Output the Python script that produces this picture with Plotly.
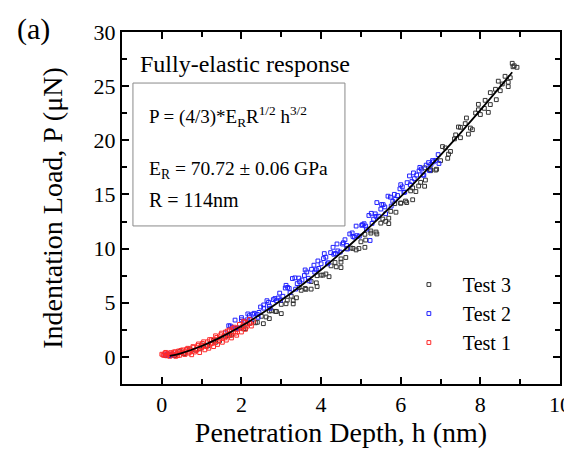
import plotly.graph_objects as go

# ---- data ----
test1_h = [0.00,0.05,0.08,0.12,0.15,0.20,0.22,0.28,0.30,0.35,0.38,0.42,0.45,0.50,0.52,0.58,0.60,0.65,0.68,0.72,
           0.75,0.80,0.82,0.88,0.90,0.95,1.00,1.02,1.08,1.10,1.15,1.18,1.22,1.25,1.30,1.32,1.38,1.40,1.45,1.48,
           1.52,1.55,1.60,1.62,1.68,1.70,1.75,1.80,1.82,1.88,1.90,1.95,2.00,2.02,2.08,2.10,2.15,2.20,2.25,2.30,
           0.03,0.10,0.18,0.26,0.34,0.40,0.48,0.55,0.62,0.70,0.78,0.86,0.92,0.98,1.05,1.12,1.20,1.27,1.35,1.42,
           1.50,1.58,1.65,1.72,1.78,1.85,1.98,2.05,2.12,2.22]
test1_P = [0.25,0.15,0.35,0.10,0.28,0.05,0.40,0.18,0.45,0.05,0.30,0.55,0.15,0.40,0.65,0.22,0.55,0.80,0.35,0.62,
           0.20,0.90,0.45,0.70,1.05,0.40,0.85,1.25,0.65,1.05,1.40,0.80,1.20,1.60,0.95,1.45,1.80,1.15,1.65,2.05,
           1.35,1.85,2.30,1.55,2.05,2.50,1.75,2.30,2.75,2.00,2.55,3.00,2.30,2.80,3.20,2.55,3.05,3.45,2.85,3.30,
           0.18,0.42,0.22,0.30,0.48,0.12,0.60,0.35,0.70,0.45,0.95,0.60,1.20,0.95,1.40,0.95,1.60,1.25,1.95,1.45,
           2.20,1.75,2.40,2.00,2.65,2.20,2.65,3.30,2.75,3.10]

test2_h = [0.08,0.15,0.22,0.30,
           1.60,1.68,1.76,1.84,1.92,2.00,2.08,2.16,2.24,2.32,2.40,2.48,2.56,2.64,2.72,2.80,2.88,2.96,
           3.04,3.12,3.20,3.28,3.36,3.44,3.52,3.60,3.68,3.76,3.84,3.92,4.00,4.08,4.16,4.24,4.32,4.40,
           4.48,4.56,4.64,4.72,4.80,4.88,4.96,5.04,5.12,5.20,5.28,5.36,5.44,5.52,5.60,5.68,5.76,5.84,
           5.92,6.00,6.08,6.16,6.24,6.32,6.40,6.48,6.56,6.64,6.72,6.80,6.88,6.96,
           2.20,2.44,2.68,2.92,3.16,3.40,3.64,3.88,4.12,4.36,4.60,4.84,5.08,5.32,5.56,5.80,6.04,6.28,
           6.52,6.76,5.23,5.40,
           1.72,1.86,2.00,2.14,2.28,2.42,2.56,2.70,2.84,2.98,
           3.10,3.22,3.34,3.46,3.58,3.70,3.82,3.94,4.06,4.18,4.30,4.42,4.54,4.66,4.78,4.90,5.02,5.14,
           5.26,5.38,5.50,5.62,5.74,5.86,5.98,6.10,6.22,6.34,6.46,6.58,6.70,6.82,6.94]
test2_P = [0.18,0.28,0.12,0.25,
           2.22,2.88,2.74,3.40,2.66,3.43,3.30,3.97,3.45,4.03,3.92,4.61,4.50,5.19,4.49,5.29,5.19,5.89,
           5.60,6.61,6.32,7.24,6.26,7.28,7.10,8.03,7.26,8.09,7.83,8.86,8.60,9.54,8.59,9.63,9.48,10.43,
           9.68,10.54,10.29,11.35,11.12,12.08,11.15,12.21,12.08,13.06,12.33,13.21,12.99,14.07,13.85,14.84,13.92,15.01,
           14.90,15.90,15.19,16.09,15.89,16.99,16.79,17.50,16.80,17.71,17.22,18.13,18.15,17.86,
           3.81,4.11,5.04,5.44,6.42,6.77,7.84,8.04,9.21,9.55,10.82,11.05,12.30,12.72,14.06,14.37,15.70,16.19,
           17.35,17.78,10.75,14.25,
           2.86,2.64,3.63,3.43,3.94,3.66,4.80,4.69,5.39,5.24,
           6.36,5.93,7.30,6.94,7.52,7.02,8.47,8.17,9.08,8.70,10.12,9.79,10.42,9.96,11.45,11.20,12.15,11.80,
           13.26,12.98,13.65,13.22,14.75,14.54,15.52,15.22,16.71,16.46,17.17,16.78,17.94,18.01,18.68]

test3_h = [0.10,0.20,0.32,0.45,0.58,0.70,0.85,1.00,1.15,1.30,1.45,1.60,1.75,1.90,2.05,2.20,2.35,2.50,2.62,2.75,
           2.88,3.00,3.12,3.25,3.38,3.50,3.62,3.75,3.88,4.00,4.12,4.25,4.38,4.50,4.62,4.75,4.88,5.00,5.12,5.25,
           5.38,5.50,5.62,5.75,5.88,6.00,6.12,6.25,6.38,6.50,6.62,6.75,6.88,7.00,7.12,7.25,7.38,7.50,7.62,7.75,
           7.88,8.00,8.12,8.25,8.38,8.50,8.62,8.75,8.85,8.92,
           7.18,7.45,7.70,7.95,8.20,8.45,8.70,8.80,6.60,6.30,5.70,5.10,4.50,3.90,3.30,2.70,
           2.55,2.70,2.85,3.00,3.15,3.30,3.45,3.60,3.75,3.90,4.05,4.20,4.35,4.50,4.65,4.80,4.95,5.10,
           5.25,5.40,5.55,5.70,5.85,6.00,6.15,6.30,6.45,6.60,6.75,6.90,7.05,7.20,7.35,7.50,7.65,7.80,
           7.95,8.10,8.25,8.40,8.55,8.70,8.82,0.55,0.95,1.35,1.70,2.10,2.40]
test3_P = [0.13,0.24,0.13,0.50,0.34,0.74,0.63,1.10,1.03,1.53,1.50,1.92,2.02,2.67,2.59,3.11,3.15,3.75,3.69,4.26,
           4.19,4.85,4.91,5.61,5.46,6.15,6.24,6.96,6.84,7.55,7.66,8.41,8.32,9.05,9.18,10.05,9.88,10.63,10.79,11.63,
           11.53,12.35,12.52,13.44,13.36,14.20,14.39,15.33,15.27,16.12,16.33,17.29,17.25,18.12,19.30,18.97,20.50,20.24,21.54,21.13,
           22.52,22.38,23.69,23.30,24.71,24.58,25.91,25.78,26.88,26.74,
           18.34,21.23,20.57,23.32,22.58,25.46,24.96,27.11,17.46,14.51,12.31,10.12,8.25,6.50,4.90,3.54,
           3.07,4.24,4.21,4.00,5.24,5.20,6.41,6.33,6.26,7.50,7.55,7.41,8.72,8.75,10.03,10.02,10.01,11.32,
           11.43,11.35,12.73,12.81,14.15,14.20,14.25,15.61,15.78,15.76,17.19,17.33,19.42,18.72,20.13,21.20,22.06,20.98,
           22.82,22.95,24.40,23.75,25.20,25.36,26.79,0.30,0.75,1.35,2.00,2.60,3.20]

fit_h = [0.2,0.5,1.0,1.5,2.0,2.5,3.0,3.5,4.0,4.5,5.0,5.5,6.0,6.5,7.0,7.5,8.0,8.5,8.8]
fit_P = [0.09,0.36,1.01,1.85,2.85,3.98,5.23,6.59,8.05,9.61,11.26,12.98,14.79,16.68,18.64,20.67,22.78,24.95,26.28]

x_ticks = [0, 2, 4, 6, 8, 10]
y_ticks = [0, 5, 10, 15, 20, 25, 30]

FONT = "Liberation Serif, Times New Roman, serif"

fig = go.Figure()
series = [("Test 3", test3_h, test3_P, "#333333"),
          ("Test 2", test2_h, test2_P, "#2020ff"),
          ("Test 1", test1_h, test1_P, "#ff2a2a")]
for name, hx, py, col in series:
    fig.add_trace(go.Scatter(
        x=hx, y=py, mode="markers", name=name,
        marker=dict(symbol="square-open", size=3.8, color=col, line=dict(width=1, color=col)),
    ))
fig.add_trace(go.Scatter(x=fit_h, y=fit_P, mode="lines", line=dict(color="black", width=1.8),
                         line_shape="spline", showlegend=False))

axis_common = dict(
    showgrid=False, zeroline=False, showline=True, linecolor="black", linewidth=2,
    mirror="allticks", ticks="inside", ticklen=7, tickwidth=1.5, tickcolor="black",
    tickfont=dict(family=FONT, size=22, color="black"), automargin=False,
)
fig.update_xaxes(range=[-1, 10], tickvals=x_ticks,
                 minor=dict(dtick=1, ticks="inside", ticklen=5, tickwidth=1.5, tickcolor="black", tick0=0),
                 title=dict(text="Penetration Depth, h (nm)", font=dict(family=FONT, size=28, color="black"),
                            standoff=5),
                 **axis_common)
fig.update_yaxes(range=[-2.5, 30], tickvals=y_ticks,
                 minor=dict(dtick=2.5, ticks="inside", ticklen=5, tickwidth=1.5, tickcolor="black", tick0=0),
                 title=dict(text="Indentation Load, P (μN)", font=dict(family=FONT, size=28, color="black"),
                            standoff=23),
                 **axis_common)

# the page body keeps an 8px margin, so the figure is 8px smaller than the window
fig.update_layout(
    width=564, height=445,
    margin=dict(l=114, r=12, t=24, b=69),
    paper_bgcolor="white", plot_bgcolor="white",
    font=dict(family=FONT, color="black"),
    legend=dict(x=0.623, y=0.338, xanchor="left", yanchor="top", bgcolor="rgba(0,0,0,0)",
                font=dict(family=FONT, size=20, color="black"), itemwidth=58),
    shapes=[dict(type="rect", xref="paper", yref="paper", x0=0.025, x1=0.509, y0=0.449, y1=0.855,
                 line=dict(color="#8a8a8a", width=1), fillcolor="rgba(0,0,0,0)")],
    annotations=[
        dict(text="(a)", xref="paper", yref="paper", x=-0.245, y=1.062, xanchor="left", yanchor="top",
             showarrow=False, font=dict(family=FONT, size=30, color="black")),
        dict(text="Fully-elastic response", xref="paper", yref="paper", x=0.036, y=0.91,
             xanchor="left", yanchor="middle", showarrow=False, font=dict(family=FONT, size=24, color="black")),
        dict(text="P = (4/3)*E<sub>R</sub>R<sup>1/2</sup> h<sup>3/2</sup>", xref="paper", yref="paper",
             x=0.058, y=0.759, xanchor="left", yanchor="middle", showarrow=False,
             font=dict(family=FONT, size=19, color="black")),
        dict(text="E<sub>R</sub> = 70.72 ± 0.06 GPa", xref="paper", yref="paper",
             x=0.058, y=0.608, xanchor="left", yanchor="middle", showarrow=False,
             font=dict(family=FONT, size=19.5, color="black")),
        dict(text="R = 114nm", xref="paper", yref="paper",
             x=0.058, y=0.523, xanchor="left", yanchor="middle", showarrow=False,
             font=dict(family=FONT, size=20, color="black")),
    ],
)

fig.write_html("out.html")
